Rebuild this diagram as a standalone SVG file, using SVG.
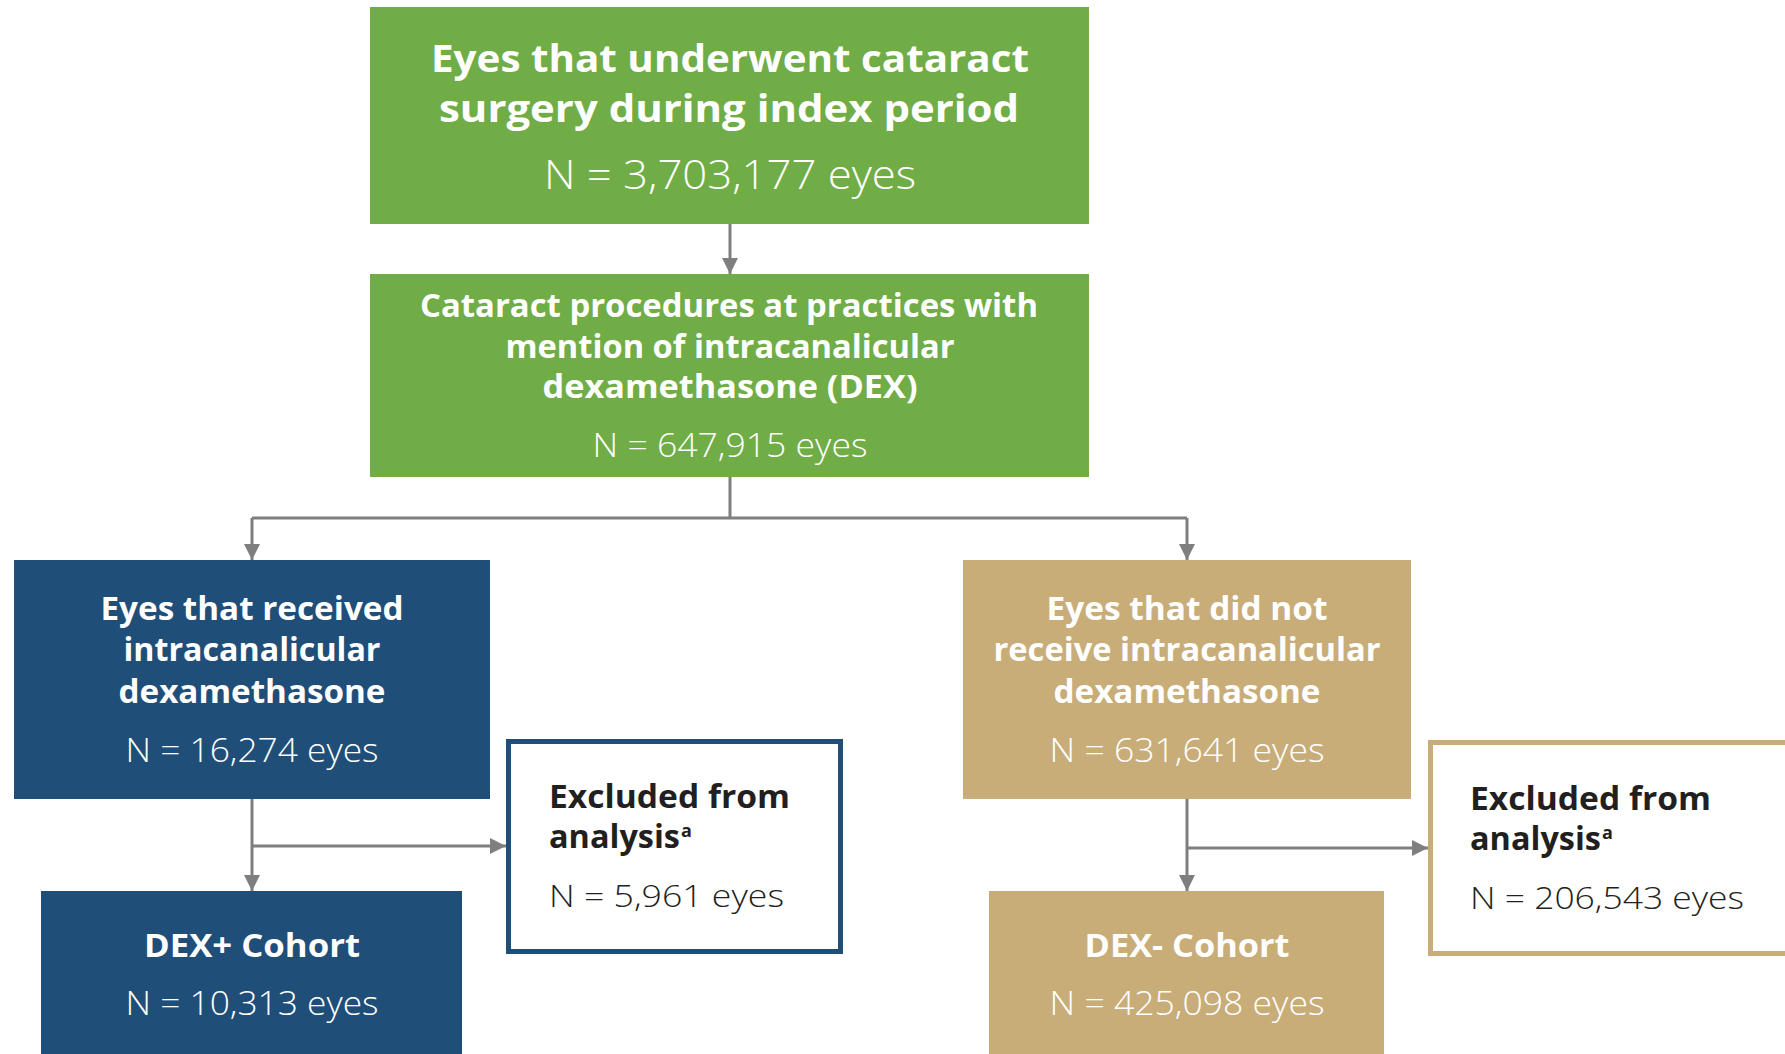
<svg xmlns="http://www.w3.org/2000/svg" width="1785" height="1054" viewBox="0 0 1785 1054">
<defs>
<style>
.h{font-family:"Open Sans","DejaVu Sans",sans-serif;font-weight:700;fill:#fff;text-anchor:middle}
.n{font-family:"Open Sans","DejaVu Sans",sans-serif;font-weight:300;fill:#fff;text-anchor:middle}
.hd{font-family:"Open Sans","DejaVu Sans",sans-serif;font-weight:700;fill:#231f20}
.nd{font-family:"Open Sans","DejaVu Sans",sans-serif;font-weight:300;fill:#231f20}
.c{fill:none;stroke:#7f7f7f;stroke-width:3}
</style>
<marker id="ah" viewBox="0 0 10 10" refX="10" refY="5" markerWidth="5.5" markerHeight="5.5" markerUnits="strokeWidth" orient="auto">
<path d="M0,0 L10,5 L0,10 Z" fill="#7f7f7f"/>
</marker>
</defs>
<rect width="1785" height="1054" fill="#fff"/>
<g id="connectors">
<path class="c" d="M730,224 V274" marker-end="url(#ah)"/>
<path class="c" d="M730,476 V518 M252,518 H1187"/>
<path class="c" d="M252,518 V560" marker-end="url(#ah)"/>
<path class="c" d="M1187,518 V560" marker-end="url(#ah)"/>
<path class="c" d="M252,799 V891" marker-end="url(#ah)"/>
<path class="c" d="M252,846 H506" marker-end="url(#ah)"/>
<path class="c" d="M1187,799 V891" marker-end="url(#ah)"/>
<path class="c" d="M1187,848 H1428" marker-end="url(#ah)"/>
</g>
<g id="n-all">
<rect x="370" y="7" width="719" height="217" fill="#70ad47"/>
<text class="h" x="730" y="72" font-size="37" textLength="598" lengthAdjust="spacingAndGlyphs">Eyes that underwent cataract</text>
<text class="h" x="729" y="122" font-size="37" textLength="580" lengthAdjust="spacingAndGlyphs">surgery during index period</text>
<text class="n" x="730" y="189" font-size="40" textLength="372" lengthAdjust="spacingAndGlyphs">N = 3,703,177 eyes</text>
</g>
<g id="n-practices">
<rect x="370" y="274" width="719" height="203" fill="#70ad47"/>
<text class="h" x="729" y="317" font-size="31.5" textLength="618" lengthAdjust="spacingAndGlyphs">Cataract procedures at practices with</text>
<text class="h" x="730" y="358" font-size="31.5" textLength="449" lengthAdjust="spacingAndGlyphs">mention of intracanalicular</text>
<text class="h" x="730" y="398" font-size="31.5" textLength="375" lengthAdjust="spacingAndGlyphs">dexamethasone (DEX)</text>
<text class="n" x="730" y="457" font-size="33" textLength="275" lengthAdjust="spacingAndGlyphs">N = 647,915 eyes</text>
</g>
<g id="n-dexpos">
<rect x="14" y="560" width="476" height="239" fill="#1f4e79"/>
<text class="h" x="252" y="620" font-size="31.5" textLength="303" lengthAdjust="spacingAndGlyphs">Eyes that received</text>
<text class="h" x="252" y="661" font-size="31.5" textLength="257" lengthAdjust="spacingAndGlyphs">intracanalicular</text>
<text class="h" x="252" y="703" font-size="31.5" textLength="267" lengthAdjust="spacingAndGlyphs">dexamethasone</text>
<text class="n" x="252" y="762" font-size="33" textLength="253" lengthAdjust="spacingAndGlyphs">N = 16,274 eyes</text>
</g>
<g id="n-dexneg">
<rect x="963" y="560" width="448" height="239" fill="#c9ad79"/>
<text class="h" x="1187" y="620" font-size="31.5" textLength="281" lengthAdjust="spacingAndGlyphs">Eyes that did not</text>
<text class="h" x="1187" y="661" font-size="31.5" textLength="387" lengthAdjust="spacingAndGlyphs">receive intracanalicular</text>
<text class="h" x="1187" y="703" font-size="31.5" textLength="267" lengthAdjust="spacingAndGlyphs">dexamethasone</text>
<text class="n" x="1187" y="762" font-size="33" textLength="275" lengthAdjust="spacingAndGlyphs">N = 631,641 eyes</text>
</g>
<g id="n-excl-pos">
<rect x="508.5" y="741.5" width="332" height="210" fill="#fff" stroke="#1f4e79" stroke-width="5"/>
<text class="hd" x="549" y="808" font-size="31.5" textLength="241" lengthAdjust="spacingAndGlyphs">Excluded from</text>
<text class="hd" x="549" y="848" font-size="31.5"><tspan textLength="131" lengthAdjust="spacingAndGlyphs">analysis</tspan><tspan font-size="18" dx="1" dy="-11">a</tspan></text>
<text class="nd" x="549" y="907" font-size="32" textLength="235" lengthAdjust="spacingAndGlyphs">N = 5,961 eyes</text>
</g>
<g id="n-excl-neg">
<rect x="1430.5" y="742.5" width="400" height="211" fill="#fff" stroke="#c9ad79" stroke-width="5"/>
<text class="hd" x="1470" y="810" font-size="31.5" textLength="241" lengthAdjust="spacingAndGlyphs">Excluded from</text>
<text class="hd" x="1470" y="850" font-size="31.5"><tspan textLength="131" lengthAdjust="spacingAndGlyphs">analysis</tspan><tspan font-size="18" dx="1" dy="-11">a</tspan></text>
<text class="nd" x="1470" y="909" font-size="32" textLength="274" lengthAdjust="spacingAndGlyphs">N = 206,543 eyes</text>
</g>
<g id="n-cohort-pos">
<rect x="41" y="891" width="421" height="163" fill="#1f4e79"/>
<text class="h" x="252" y="957" font-size="31.5" textLength="216" lengthAdjust="spacingAndGlyphs">DEX+ Cohort</text>
<text class="n" x="252" y="1015" font-size="33" textLength="253" lengthAdjust="spacingAndGlyphs">N = 10,313 eyes</text>
</g>
<g id="n-cohort-neg">
<rect x="989" y="891" width="395" height="163" fill="#c9ad79"/>
<text class="h" x="1187" y="957" font-size="31.5" textLength="205" lengthAdjust="spacingAndGlyphs">DEX- Cohort</text>
<text class="n" x="1187" y="1015" font-size="33" textLength="275" lengthAdjust="spacingAndGlyphs">N = 425,098 eyes</text>
</g>
</svg>
